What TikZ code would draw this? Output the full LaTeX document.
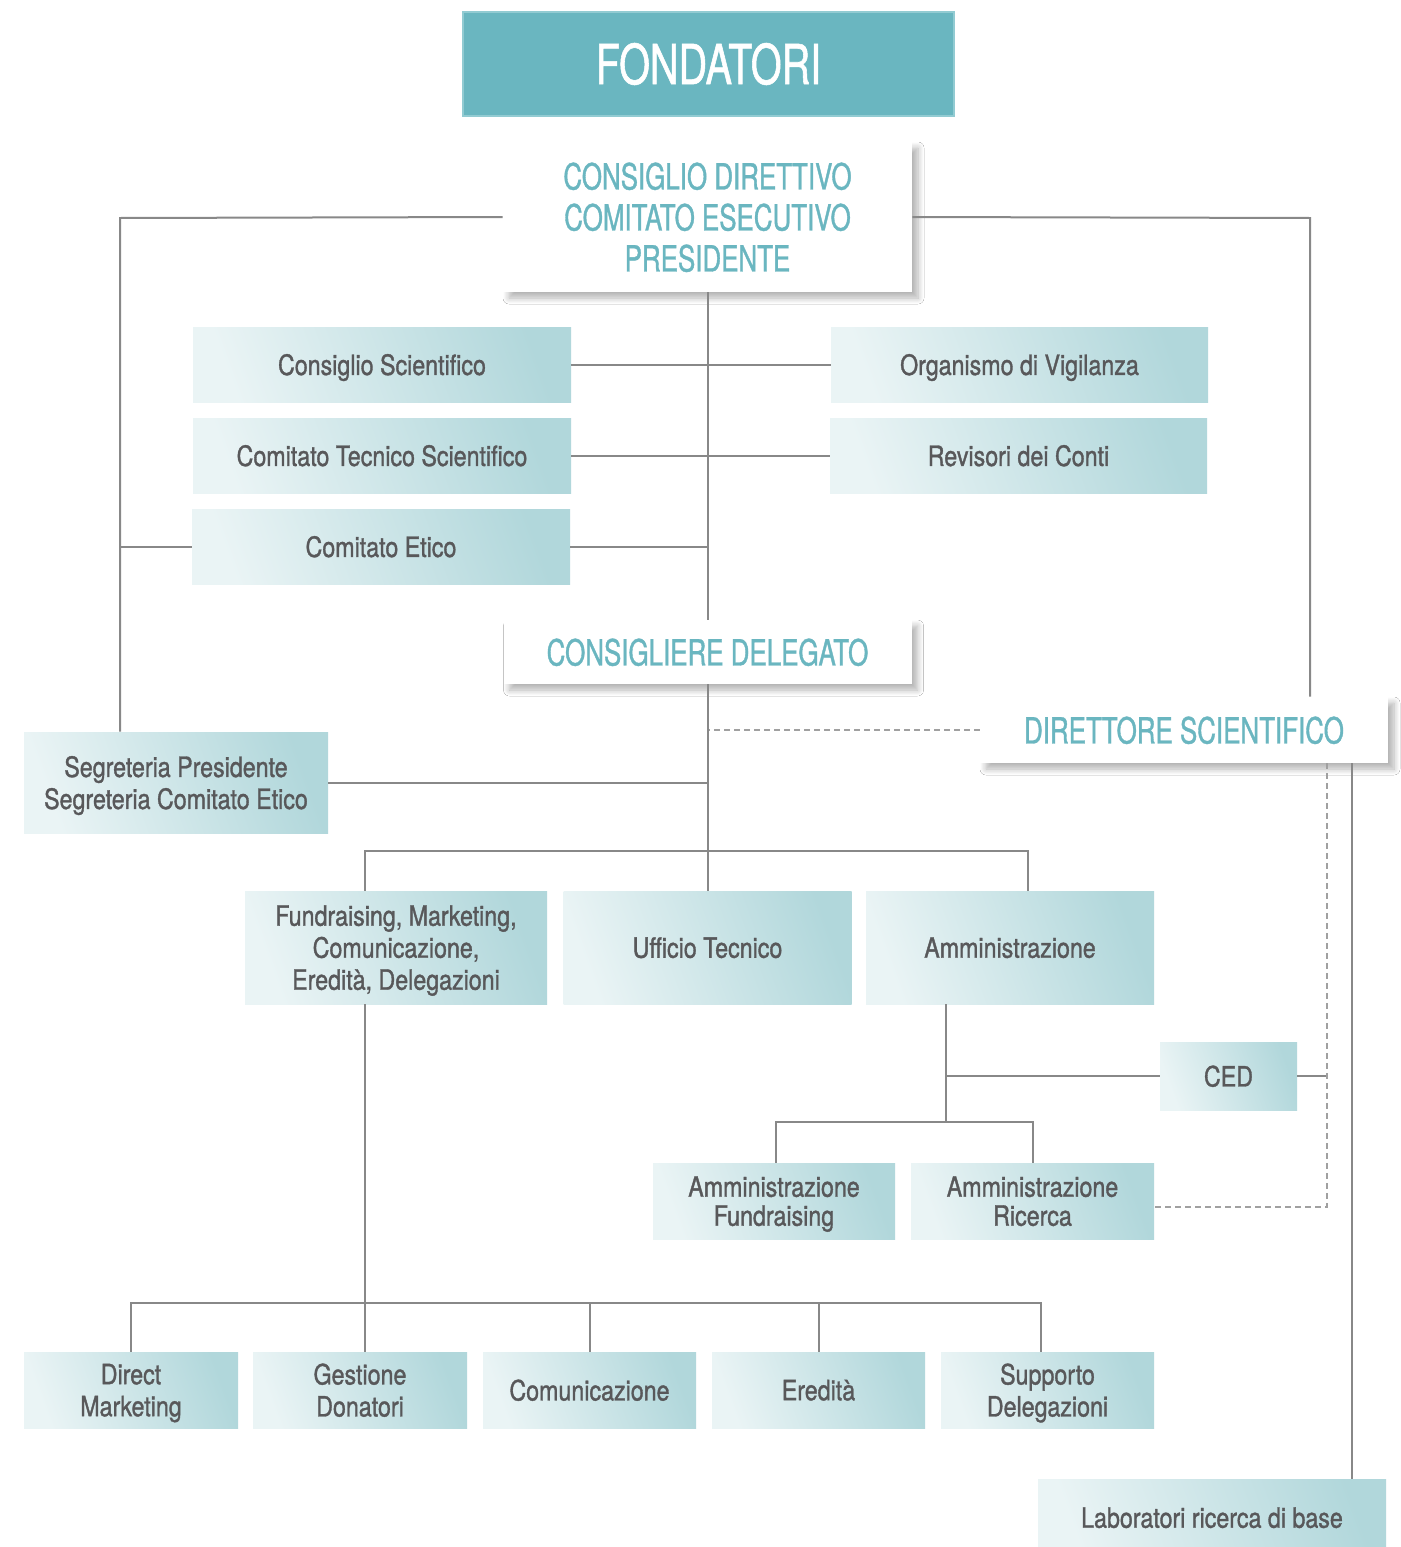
\documentclass[tikz,border=0pt]{standalone}
\usepackage{fontspec}
\setmainfont{TeX Gyre Heros}[FakeStretch=0.83, FakeBold=1.2]
\newfontfamily\headfont{TeX Gyre Heros}[FakeStretch=0.72, FakeBold=1.0]
\usetikzlibrary{shadows.blur}
\definecolor{tealA}{HTML}{6AB6C0}
\definecolor{tealB}{HTML}{92CBD2}
\definecolor{txtG}{HTML}{58585A}
\definecolor{gL}{HTML}{EAF4F5}
\definecolor{gR}{HTML}{B1D7DB}
\definecolor{lnG}{HTML}{888888}
\definecolor{dsG}{HTML}{A0A0A0}
\tikzset{
  gbox/.style={left color=gL, right color=gR, shading angle=110, draw=none, align=center, text=txtG,
    font=\fontsize{14}{16}\selectfont, inner sep=0pt, text depth=0pt},
  wbox/.style={fill=white, draw=none, align=center, text=tealA, inner sep=0pt, text depth=0pt,
    font=\headfont\fontsize{18}{20.5}\selectfont,
    blur shadow={shadow xshift=3pt, shadow yshift=-3pt, shadow blur steps=8, shadow blur radius=3pt, shadow opacity=30}},
  conn/.style={draw=lnG, line width=1pt},
  dashln/.style={draw=dsG, line width=0.6pt, dash pattern=on 3pt off 2pt},
}
\begin{document}
\begin{tikzpicture}[x=0.5pt,y=-0.5pt]
\useasboundingbox[fill=white] (0,0) rectangle (1401,1547);

% top
\node[fill=tealA, draw=tealB, line width=0.8pt, text=white, minimum width=245.5pt, minimum height=52pt,
  font=\headfont\fontsize{27.5}{30}\selectfont, inner sep=0pt] (fond) at (708.5,64) {FONDATORI};
\node[wbox, minimum width=204.5pt, minimum height=75pt] (cd) at (707.5,217)
  {CONSIGLIO DIRETTIVO\\COMITATO ESECUTIVO\\PRESIDENTE};

% committees
\node[gbox, minimum width=189pt, minimum height=37.5pt] (cs) at (382,364.5) {Consiglio Scientifico};
\node[gbox, minimum width=188.5pt, minimum height=37.5pt] (ov) at (1019.5,364.5) {Organismo di Vigilanza};
\node[gbox, minimum width=189pt, minimum height=37.5pt] (cts) at (382,455.5) {Comitato Tecnico Scientifico};
\node[gbox, minimum width=188.5pt, minimum height=37.5pt] (rc) at (1018.5,455.5) {Revisori dei Conti};
\node[gbox, minimum width=189pt, minimum height=37.5pt] (ce) at (381,546.5) {Comitato Etico};

\node[wbox, minimum width=204pt, minimum height=32pt] (cdel) at (707.5,652) {CONSIGLIERE DELEGATO};
\node[wbox, minimum width=204pt, minimum height=33pt] (ds) at (1184,730) {DIRETTORE SCIENTIFICO};

\node[gbox, minimum width=152pt, minimum height=50.5pt] (segr) at (176,782.5)
  {Segreteria Presidente\\Segreteria Comitato Etico};

% departments
\node[gbox, minimum width=151pt, minimum height=56.5pt] (fmk) at (396,947.5)
  {Fundraising, Marketing,\\Comunicazione,\\Eredità, Delegazioni};
\node[gbox, minimum width=144pt, minimum height=56.5pt] (ut) at (707.5,947.5) {Ufficio Tecnico};
\node[gbox, minimum width=144pt, minimum height=56.5pt] (amm) at (1010,947.5) {Amministrazione};

\node[gbox, minimum width=68.5pt, minimum height=34pt] (ced) at (1228.5,1076) {CED};
\node[gbox, minimum width=121pt, minimum height=38pt, font=\fontsize{14}{14.5}\selectfont] (af) at (774,1201)
  {Amministrazione\\Fundraising};
\node[gbox, minimum width=121.5pt, minimum height=38pt, font=\fontsize{14}{14.5}\selectfont] (ar) at (1032.5,1201)
  {Amministrazione\\Ricerca};

% bottom row
\node[gbox, minimum width=107pt, minimum height=38pt] (dm) at (131,1390) {Direct\\Marketing};
\node[gbox, minimum width=107pt, minimum height=38pt] (gd) at (360,1390) {Gestione\\Donatori};
\node[gbox, minimum width=106.5pt, minimum height=38pt] (com) at (589.5,1390) {Comunicazione};
\node[gbox, minimum width=106.5pt, minimum height=38pt] (er) at (818.5,1390) {Eredità};
\node[gbox, minimum width=106.5pt, minimum height=38pt] (sd) at (1047.5,1390) {Supporto\\Delegazioni};

\node[gbox, minimum width=174pt, minimum height=33.5pt] (lab) at (1212,1512.5) {\raisebox{-5pt}{Laboratori ricerca di base}};

% coordinates for bus lines
\coordinate (L1) at (120,218);
\coordinate (R1) at (1310,218);
\coordinate (B1) at (365,851);
\coordinate (B2) at (1028,851);
\coordinate (A1) at (946,1122);
\coordinate (A2) at (776,1122);
\coordinate (A3) at (1033,1122);
\coordinate (D1) at (1327,1207);
\coordinate (S1) at (1352,1000);
\coordinate (F1) at (365,1303);
\coordinate (F2) at (131,1303);
\coordinate (F3) at (1041,1303);

% connectors
\draw[conn] (cd.west) -- (L1) -- (L1 |- segr.north);
\draw[conn] (cd.east) -- (R1) -- (R1 |- ds.north);
\draw[conn] (cd.south) -- (cdel.north);
\draw[conn] (cs.east) -- (ov.west);
\draw[conn] (cts.east) -- (rc.west);
\draw[conn] (ce.east) -- (ce.east -| cd.south);
\draw[conn] (ce.west) -- (ce.west -| L1);
\draw[dashln] (ds.west) -- (ds.west -| cdel.south);
\draw[conn] (segr.east) -- (segr.east -| cdel.south);
\draw[conn] (cdel.south) -- (ut.north);
\draw[conn] (B1 |- fmk.north) -- (B1) -- (B2) -- (B2 |- amm.north);
\draw[conn] (A1 |- amm.south) -- (A1);
\draw[conn] (A1 |- ced.west) -- (ced.west);
\draw[conn] (A2 |- af.north) -- (A2) -- (A3) -- (A3 |- ar.north);
\draw[conn] (ced.east) -- (ced.east -| D1);
\draw[dashln] (D1 |- ds.south) -- (D1) -- (D1 -| ar.east);
\draw[conn] (S1 |- ds.south) -- (S1 |- lab.north);
\draw[conn] (F1 |- fmk.south) -- (F1);
\draw[conn] (dm.north) -- (F2) -- (F3) -- (F3 |- sd.north);
\draw[conn] (F1) -- (F1 |- gd.north);
\draw[conn] (com.north |- F1) -- (com.north);
\draw[conn] (er.north |- F1) -- (er.north);
\end{tikzpicture}
\end{document}
